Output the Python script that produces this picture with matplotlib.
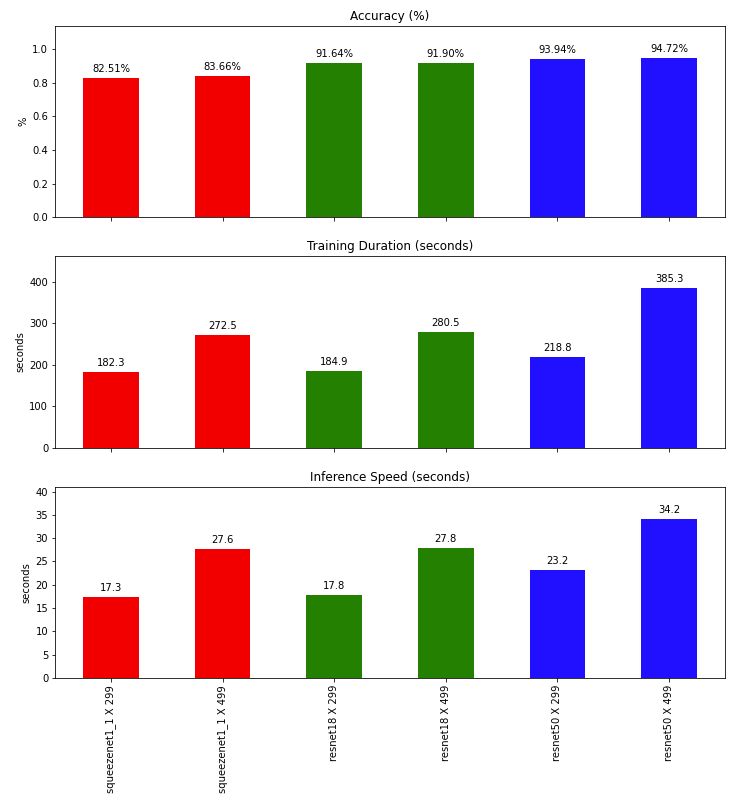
import numpy as np
import matplotlib
matplotlib.use('Agg')
import matplotlib.pyplot as plt

# Model / input size combinations
models = ['squeezenet1_1 X 299', 'squeezenet1_1 X 499',
          'resnet18 X 299', 'resnet18 X 499',
          'resnet50 X 299', 'resnet50 X 499']
accuracy = [0.8251, 0.8366, 0.9164, 0.9190, 0.9394, 0.9472]
train_time = [182.3, 272.5, 184.9, 280.5, 218.8, 385.3]
infer_time = [17.3, 27.6, 17.8, 27.8, 23.2, 34.2]
colors = ['#f20000', '#f20000', '#238000', '#238000', '#2010ff', '#2010ff']

fig, axes = plt.subplots(3, 1, figsize=(745 / 72, 811 / 72), dpi=72, sharex=True)
fig.subplots_adjust(left=0.074, right=0.973, top=0.968, bottom=0.164, hspace=0.204)

x = np.arange(len(models))
panels = [
    (accuracy, 'Accuracy (%)', '%', lambda v: f'{v * 100:.2f}%'),
    (train_time, 'Training Duration (seconds)', 'seconds', lambda v: f'{v:.1f}'),
    (infer_time, 'Inference Speed (seconds)', 'seconds', lambda v: f'{v:.1f}'),
]

for ax, (vals, title, ylabel, fmt) in zip(axes, panels):
    bars = ax.bar(x, vals, width=0.5, color=colors)
    ax.set_title(title)
    ax.set_ylabel(ylabel)
    ax.set_xlim(-0.5, len(models) - 0.5)
    ax.set_ylim(0, max(vals) * 1.2)
    for b, v in zip(bars, vals):
        ax.annotate(fmt(v), (b.get_x() + b.get_width() / 2, b.get_height()),
                    xytext=(0, 4), textcoords='offset points',
                    ha='center', va='bottom')

axes[-1].set_xticks(x)
axes[-1].set_xticklabels(models, rotation=90)

plt.savefig('out.png', dpi=72)
